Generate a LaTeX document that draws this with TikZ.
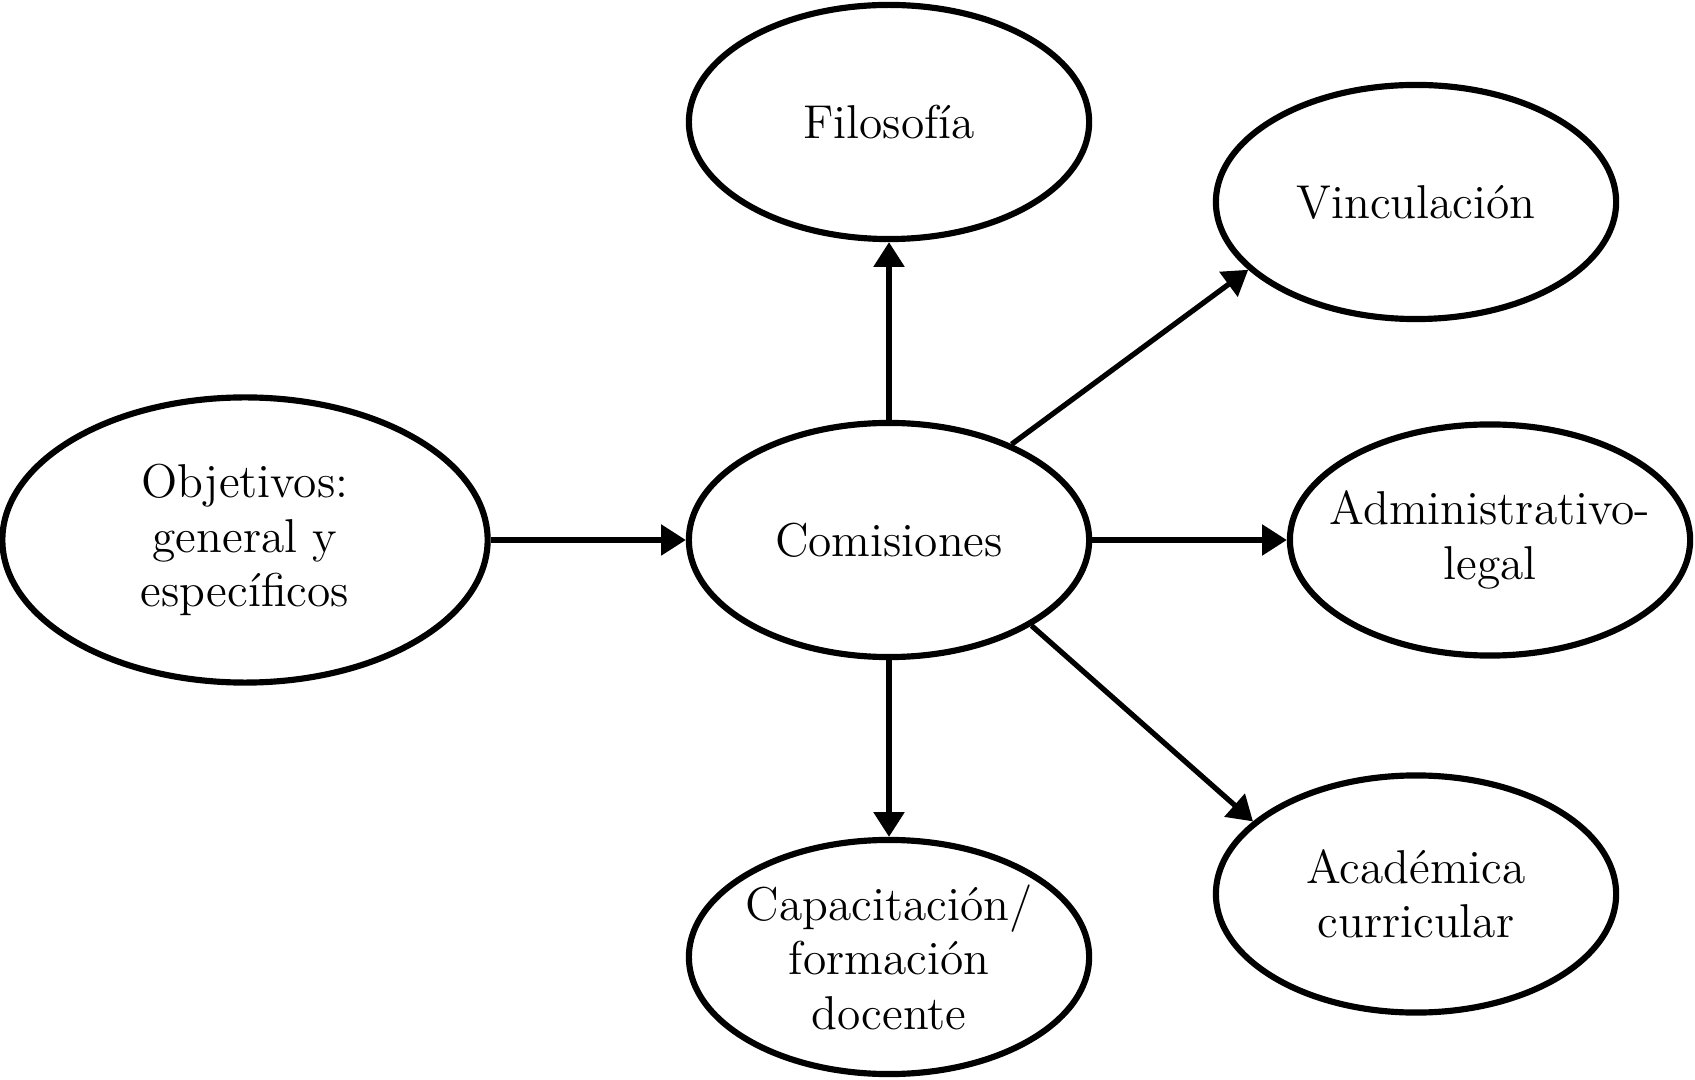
\documentclass[tikz,border=0pt]{standalone}
\usepackage{fontspec}
\usepackage{tikz}
\usetikzlibrary{arrows.meta,shapes.geometric}

\begin{document}
\begin{tikzpicture}[x=0.01cm,y=-0.01cm,line width=1.75pt,
  font=\fontsize{13.5}{15.5}\selectfont,
  bubble/.style={draw,ellipse,align=center,inner xsep=-0.5cm,inner ysep=0pt,
    minimum width=4cm,minimum height=2.34cm},
  link/.style={-{Triangle[length=7pt,width=8.5pt]},line width=1.5pt}]
\useasboundingbox (0,0) rectangle (1695,1080);
% centre and source
\node[bubble] (com) at (889,540) {Comisiones};
\node[bubble,minimum width=4.85cm,minimum height=2.85cm] (obj) at (245,540) {Objetivos:\\general y\\específicos};
% the five commissions
\node[bubble] (fil) at (889,122) {Filosofía};
\node[bubble] (vin) at (1416,202) {Vinculación};
\node[bubble,minimum height=2.31cm] (adm) at (1490,540) {Administrativo-\\legal};
\node[bubble,minimum height=2.37cm] (aca) at (1416,894) {Académica\\curricular};
\node[bubble] (cap) at (889,957) {Capacitación/\\formación\\docente};
% arrows
\draw[link] (obj.east) -- (com.west);
\draw[link] (com.north) -- (fil.south);
\draw[link] (com.38) -- (vin.202);
\draw[link] (com.east) -- (adm.west);
\draw[link] (com.-31) -- (aca.156);
\draw[link] (com.south) -- (cap.north);
\end{tikzpicture}
\end{document}
